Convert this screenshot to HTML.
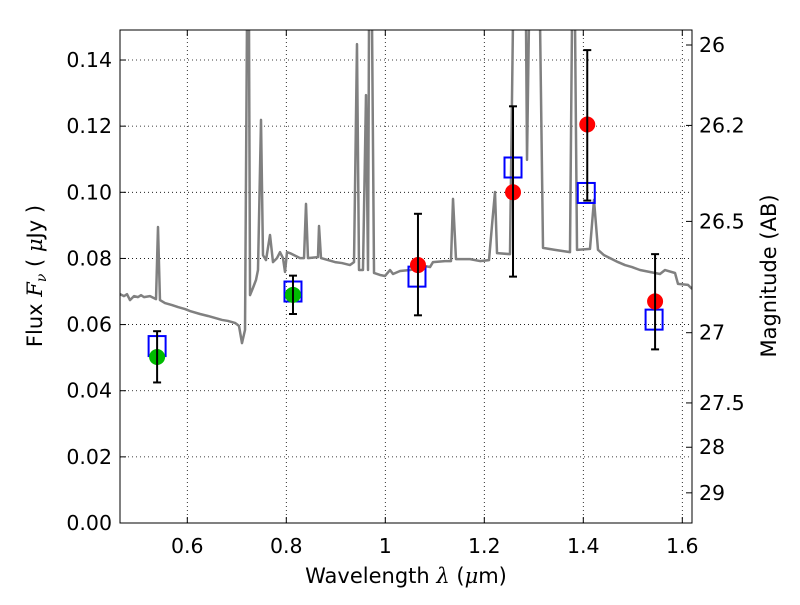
<!DOCTYPE html>
<html><head><meta charset="utf-8"><style>body{margin:0;background:#fff}svg{font-family:"DejaVu Sans","Liberation Sans",sans-serif}</style></head>
<body>
<svg id="chart" width="800" height="600">
<defs><clipPath id="pc"><rect x="120" y="30" width="572" height="493"/></clipPath></defs>
<rect x="0" y="0" width="800" height="600" fill="#fff"/>
<g id="grid"></g>
<g id="spec" clip-path="url(#pc)"></g>
<g id="marks" clip-path="url(#pc)"></g>
<rect x="120" y="30" width="572" height="493" fill="none" stroke="#000" stroke-width="1"/>
<g id="axes"></g>
<text x="406" y="583" font-size="21" text-anchor="middle">Wavelength  <tspan font-style="italic" font-family="DejaVu Serif">λ</tspan> (<tspan font-style="italic" font-family="DejaVu Serif">μ</tspan>m)</text>
<text transform="translate(42,276) rotate(-90)" font-size="21" text-anchor="middle">Flux  <tspan font-style="italic" font-family="DejaVu Serif">F<tspan font-size="14" dy="4">ν</tspan></tspan><tspan dy="-4">  ( </tspan><tspan font-style="italic" font-family="DejaVu Serif">μ</tspan>Jy )</text>
<text transform="translate(776,276) rotate(-90)" font-size="21" text-anchor="middle">Magnitude (AB)</text>
</svg>
<script>
const xTicks=[0.6,0.8,1.0,1.2,1.4,1.6];
const xTickLabels=["0.6","0.8","1","1.2","1.4","1.6"];
const yTicks=[0,0.02,0.04,0.06,0.08,0.1,0.12,0.14];
const yTickLabels=["0.00","0.02","0.04","0.06","0.08","0.10","0.12","0.14"];
const magTicks=[26,26.2,26.5,27,27.5,28,29];
const magTickLabels=["26","26.2","26.5","27","27.5","28","29"];
const specPx=[[120,294],[124,296],[127,294],[130,300],[134,296],[138,297],[141,295],[144,297],[150,296],[156,299],[158,227],[160,300],[165,303],[172,305],[178,307],[185,309],[190,311],[200,314],[208,316],[215,318],[222,320],[228,321],[235,323],[239,326],[242,343],[245,330],[247,20],[249,20],[250,295],[253,288],[256,280],[258,270],[261,120],[263,255],[266,260],[270,235],[273,262],[277,258],[280,252],[283,258],[285,272],[287,252],[290,253],[300,258],[304,258],[306,204],[308,258],[318,257],[319,226],[321,258],[328,260],[335,262],[342,263],[350,265],[354,262],[357,44],[359,270],[363,270],[366,95],[368,270],[369,20],[372,20],[374,273],[380,275],[385,276],[390,270],[393,274],[400,271],[410,270],[418,268],[425,266],[430,267],[433,262],[445,261],[451,261],[453,199],[456,259],[470,259],[480,261],[489,260],[492,225],[495,192],[497,253],[510,254],[513,20],[526,20],[527,160],[529,20],[540,20],[543,248],[555,250],[570,252],[572,20],[575,20],[577,250],[590,249],[594,200],[598,250],[604,255],[610,258],[618,262],[625,265],[632,267],[640,270],[650,272],[660,274],[665,270],[675,273],[678,284],[688,285],[692,289]];
const specWave=specPx.map(p=>+(0.6+(p[0]-187.3)/495).toFixed(4));
const specFlux=specPx.map(p=>+((523-p[1])/3307).toFixed(4));
const obsWave=[0.539,0.8135,1.066,1.258,1.408,1.545];
const obsFlux=[0.0502,0.069,0.078,0.100,0.1205,0.067];
const obsLo=[0.0425,0.0632,0.0628,0.0745,0.0975,0.0525];
const obsHi=[0.058,0.0748,0.0935,0.126,0.143,0.0813];
const obsColor=["#00bb00","#00bb00","#ff0000","#ff0000","#ff0000","#ff0000"];
const modelWave=[0.539,0.8135,1.064,1.258,1.406,1.543];
const modelFlux=[0.0535,0.070,0.0745,0.1075,0.0998,0.0615];

const NS="http://www.w3.org/2000/svg";
const X=v=>187.3+(v-0.6)*495;
const Y=v=>523-v*3307;
const M=m=>Y(Math.pow(10,(23.9-m)/2.5));
function mk(p,t,a){const e=document.createElementNS(NS,t);for(const k in a)e.setAttribute(k,a[k]);p.appendChild(e);return e;}
const grid=document.getElementById('grid'),axes=document.getElementById('axes');
xTicks.forEach((t,i)=>{
 const g=mk(grid,'line',{x1:X(t),x2:X(t),y1:30,y2:523,stroke:'#000','stroke-width':0.8,'stroke-dasharray':'1,3'});
 
 
 mk(axes,'line',{x1:X(t),x2:X(t),y1:523,y2:517,stroke:'#000'});
 mk(axes,'line',{x1:X(t),x2:X(t),y1:30,y2:36,stroke:'#000'});
 const l=mk(axes,'text',{x:X(t),y:553,'font-size':20.5,'text-anchor':'middle'});l.textContent=xTickLabels[i];
 
 
});
yTicks.forEach((t,i)=>{
 if(t>0){const g=mk(grid,'line',{x1:120,x2:692,y1:Y(t),y2:Y(t),stroke:'#000','stroke-width':0.8,'stroke-dasharray':'1,3'});
 
 }
 mk(axes,'line',{x1:120,x2:126,y1:Y(t),y2:Y(t),stroke:'#000'});
 const l=mk(axes,'text',{x:112,y:Y(t)+7,'font-size':20.5,'text-anchor':'end'});l.textContent=yTickLabels[i];
 
 
});
magTicks.forEach((m,i)=>{
 mk(axes,'line',{x1:692,x2:686,y1:M(m),y2:M(m),stroke:'#000'});
 const l=mk(axes,'text',{x:699,y:M(m)+7,'font-size':20.5});l.textContent=magTickLabels[i];
 
 
});
const spec=document.getElementById('spec');
const sp=mk(spec,'polyline',{points:specWave.map((w,i)=>X(w)+','+Y(specFlux[i])).join(' '),fill:'none',stroke:'#808080','stroke-width':2.5,'stroke-linejoin':'round'});


const marks=document.getElementById('marks');
modelWave.forEach((w,i)=>{
 const r=mk(marks,'rect',{x:X(w)-8.5,y:Y(modelFlux[i])-10,width:17,height:20,fill:'none',stroke:'#0000ff','stroke-width':2});
 
 
});
obsWave.forEach((w,i)=>{
 const x=X(w);
 const g=mk(marks,'g',{});
 
 
 mk(g,'circle',{cx:x,cy:Y(obsFlux[i]),r:8,fill:obsColor[i]});
 mk(g,'line',{x1:x,x2:x,y1:Y(obsLo[i]),y2:Y(obsHi[i]),stroke:'#000','stroke-width':2});
 mk(g,'line',{x1:x-4,x2:x+4,y1:Y(obsLo[i]),y2:Y(obsLo[i]),stroke:'#000','stroke-width':2});
 mk(g,'line',{x1:x-4,x2:x+4,y1:Y(obsHi[i]),y2:Y(obsHi[i]),stroke:'#000','stroke-width':2});
});
</script>
</body></html>
